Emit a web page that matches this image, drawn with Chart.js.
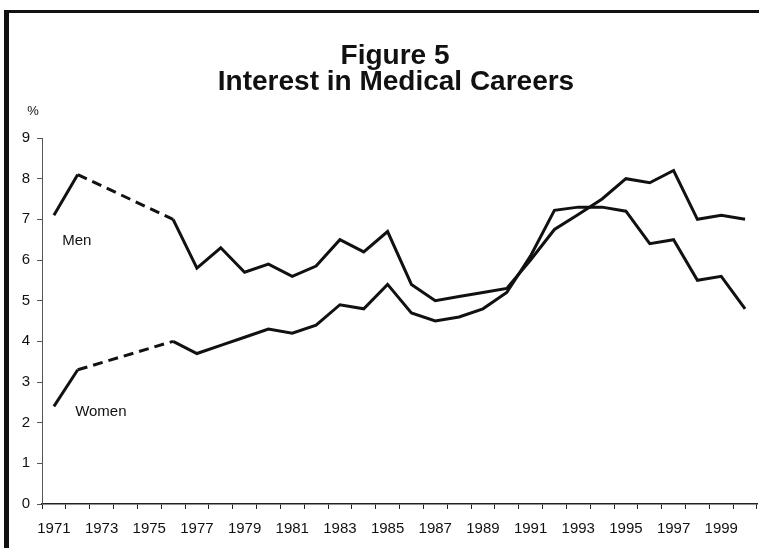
<!DOCTYPE html>
<html>
<head>
<meta charset="utf-8">
<script src="https://cdn.jsdelivr.net/npm/chart.js@4.4.1/dist/chart.umd.min.js"></script>
<style>
  html, body { margin: 0; padding: 0; background: #fff; }
  #wrap { width: 759px; height: 548px; position: relative; }
</style>
</head>
<body>
<div id="wrap"><canvas id="c" width="759" height="548"></canvas></div>
<script>
// ---- data ----
const years = ['1971','1972','1973','1974','1975','1976','1977','1978','1979','1980',
               '1981','1982','1983','1984','1985','1986','1987','1988','1989','1990',
               '1991','1992','1993','1994','1995','1996','1997','1998','1999','2000'];
const men   = [7.1, 8.1, null, null, null, 7.0, 5.8, 6.3, 5.7, 5.9,
               5.6, 5.85, 6.5, 6.2, 6.7, 5.4, 5.0, 5.1, 5.2, 5.3,
               6.0, 6.75, 7.12, 7.5, 8.0, 7.9, 8.2, 7.0, 7.1, 7.0];
const women = [2.4, 3.3, null, null, null, 4.0, 3.7, 3.9, 4.1, 4.3,
               4.2, 4.4, 4.9, 4.8, 5.4, 4.7, 4.5, 4.6, 4.8, 5.2,
               6.1, 7.22, 7.3, 7.3, 7.2, 6.4, 6.5, 5.5, 5.6, 4.8];
const seriesNames = ['Men', 'Women'];
const titleLines = ['Figure 5', 'Interest in Medical Careers'];
const yUnit = '%';

const FONT = "'Liberation Sans', Arial, Helvetica, sans-serif";

const gapDash = ctx => (ctx.p0.skip || ctx.p1.skip) ? [10, 6] : undefined;

const decor = {
  id: 'decor',
  beforeDraw(chart) {
    const c = chart.ctx;
    c.save();
    c.fillStyle = '#fff';
    c.fillRect(0, 0, chart.width, chart.height);
    c.restore();
  },
  afterDraw(chart) {
    const c = chart.ctx;
    const xs = chart.scales.x, ys = chart.scales.y;
    const area = chart.chartArea;
    c.save();
    // frame
    c.fillStyle = '#111';
    c.fillRect(4, 10, chart.width - 4, 3);
    c.fillRect(4, 10, 5, chart.height - 10);
    // title
    c.fillStyle = '#111';
    c.textAlign = 'center';
    c.textBaseline = 'alphabetic';
    c.font = 'bold 28px ' + FONT;
    c.fillText(titleLines[0], 395, 64);
    c.fillText(titleLines[1], 396, 90);
    // unit
    c.font = '13px ' + FONT;
    c.fillText(yUnit, area.left - 9, area.top - 23);
    // series labels placed in data space
    c.font = '15px ' + FONT;
    c.textAlign = 'left';
    c.fillText(seriesNames[0], xs.getPixelForValue(0.35), ys.getPixelForValue(6.36));
    c.fillText(seriesNames[1], xs.getPixelForValue(0.89), ys.getPixelForValue(2.16));
    c.restore();
  }
};

new Chart(document.getElementById('c'), {
  type: 'line',
  data: {
    labels: years,
    datasets: [
      { label: seriesNames[0], data: men, borderColor: '#111', borderWidth: 3,
        pointRadius: 0, tension: 0, spanGaps: true, segment: { borderDash: gapDash } },
      { label: seriesNames[1], data: women, borderColor: '#111', borderWidth: 3,
        pointRadius: 0, tension: 0, spanGaps: true, segment: { borderDash: gapDash } }
    ]
  },
  options: {
    responsive: false,
    animation: false,
    devicePixelRatio: 1,
    layout: { padding: { left: 0, right: 2, top: 138, bottom: 0 } },
    plugins: { legend: { display: false }, title: { display: false }, tooltip: { enabled: false } },
    scales: {
      x: {
        type: 'category',
        offset: true,
        afterFit(s) { s.height = 44; },
        grid: { display: true, offset: true, drawOnChartArea: false, drawTicks: true,
                tickLength: 5, color: '#222', lineWidth: 1 },
        border: { display: true, color: '#222', width: 1.5 },
        ticks: {
          autoSkip: false, maxRotation: 0, minRotation: 0, padding: 11,
          color: '#111', font: { family: FONT, size: 15 },
          callback(v, i) { return i % 2 === 0 ? years[i] : ''; }
        }
      },
      y: {
        min: 0, max: 9,
        afterFit(s) { s.width = 42; },
        grid: { display: true, drawOnChartArea: false, drawTicks: true,
                tickLength: 5, color: '#555', lineWidth: 1 },
        border: { display: true, color: '#555', width: 1 },
        ticks: { stepSize: 1, padding: 7, color: '#111', font: { family: FONT, size: 15 } }
      }
    }
  },
  plugins: [decor]
});
</script>
</body>
</html>
